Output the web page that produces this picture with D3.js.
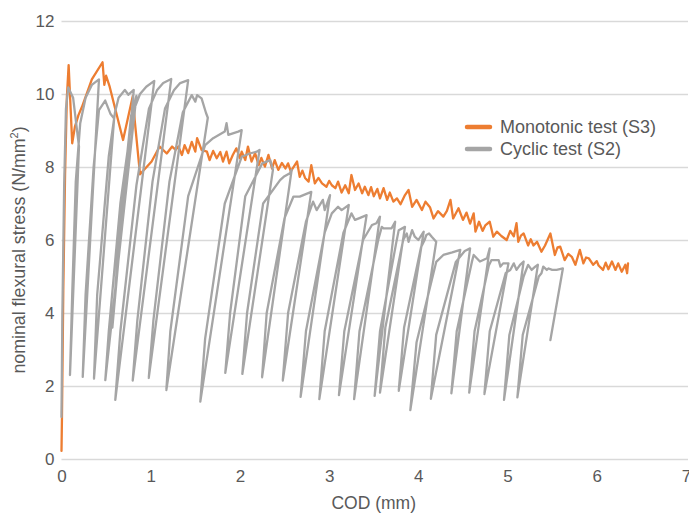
<!DOCTYPE html>
<html>
<head>
<meta charset="utf-8">
<script src="https://cdn.jsdelivr.net/npm/d3@7"></script>
<style>
  body { margin: 0; background: #fff; }
  text { font-family: "Liberation Sans", Arial, sans-serif; fill: #595959; }
</style>
</head>
<body>
<svg id="chart" width="689" height="513"></svg>
<script>
// tick values
var xTicks = [0, 1, 2, 3, 4, 5, 6, 7];
var yTicks = [0, 2, 4, 6, 8, 10, 12];

var seriesNames = ["Monotonic test (S3)", "Cyclic test (S2)"];

// [COD mm, stress N/mm2]
var monotonicS3 = [
  [0.00,0.22],[0.005,1.1],[0.02,4.6],[0.04,7.8],[0.06,9.9],[0.08,10.79],[0.12,8.65],[0.15,9.1],[0.19,9.42],
  [0.23,9.65],[0.34,10.40],[0.46,10.87],[0.48,10.25],[0.50,10.50],[0.54,10.20],[0.69,8.74],[0.80,9.95],
  [0.82,9.3],[0.88,7.80],[1.01,8.15],[1.10,8.56],[1.18,8.37],[1.24,8.56],[1.28,8.47],[1.31,8.56],[1.35,8.33],
  [1.38,8.60],[1.42,8.38],[1.46,8.69],[1.50,8.42],[1.52,8.79],[1.57,8.47],[1.63,8.42],[1.66,8.19],[1.70,8.44],
  [1.74,8.24],[1.78,8.41],[1.81,8.15],[1.85,8.42],[1.88,8.10],[1.92,8.33],[1.96,8.51],[2.00,8.24],[2.02,8.42],
  [2.06,8.19],[2.09,8.56],[2.13,8.15],[2.17,8.38],[2.21,8.05],[2.24,8.25],[2.28,8.01],[2.32,8.33],[2.36,7.96],
  [2.39,8.19],[2.43,7.92],[2.47,8.11],[2.51,7.96],[2.54,8.10],[2.57,7.88],[2.64,8.15],[2.67,7.73],[2.70,7.90],
  [2.73,7.70],[2.77,7.60],[2.80,8.05],[2.84,7.55],[2.88,7.70],[2.92,7.55],[2.97,7.46],[3.00,7.62],[3.03,7.50],
  [3.07,7.42],[3.10,7.60],[3.14,7.30],[3.18,7.50],[3.22,7.28],[3.25,7.78],[3.29,7.37],[3.33,7.55],[3.37,7.28],
  [3.40,7.46],[3.44,7.23],[3.47,7.45],[3.50,7.20],[3.54,7.40],[3.57,7.14],[3.61,7.42],[3.65,7.10],[3.68,7.30],
  [3.72,7.05],[3.76,7.14],[3.80,6.98],[3.85,7.23],[3.89,7.37],[3.93,6.91],[3.98,7.10],[4.04,6.82],[4.08,7.05],
  [4.13,6.90],[4.17,6.59],[4.22,6.79],[4.28,6.64],[4.32,6.80],[4.36,7.10],[4.39,6.59],[4.45,6.87],[4.50,6.55],
  [4.54,6.75],[4.58,6.45],[4.62,6.73],[4.64,6.23],[4.68,6.50],[4.72,6.25],[4.75,6.40],[4.80,6.50],[4.84,6.09],
  [4.88,6.23],[4.93,6.11],[4.99,6.00],[5.03,6.25],[5.07,6.10],[5.10,6.46],[5.12,5.95],[5.15,6.12],[5.18,6.18],
  [5.23,5.85],[5.26,6.02],[5.29,5.85],[5.33,5.95],[5.38,5.68],[5.42,5.85],[5.48,6.18],[5.53,5.59],[5.56,5.80],
  [5.59,5.82],[5.64,5.45],[5.68,5.62],[5.72,5.54],[5.76,5.32],[5.81,5.73],[5.85,5.36],[5.88,5.52],[5.91,5.50],
  [5.96,5.32],[6.00,5.42],[6.02,5.30],[6.07,5.18],[6.10,5.38],[6.13,5.20],[6.17,5.41],[6.21,5.18],[6.24,5.36],
  [6.28,5.13],[6.32,5.32],[6.34,5.09],[6.35,5.36]
];

// cyclic test: envelope, unload to the bottom point, reload back up
var cyclicS2 = [
  [0.00,1.15],[0.01,4.0],[0.03,7.5],[0.05,9.6],[0.076,10.18],[0.13,9.90],[0.196,8.56],
  [0.095,2.30],
  [0.12,4.5],[0.16,7.6],[0.21,9.2],[0.27,9.9],[0.34,10.25],[0.42,10.40],
  [0.238,2.25],
  [0.27,4.5],[0.36,8.0],[0.42,9.56],[0.49,9.82],[0.55,9.45],[0.59,9.33],
  [0.364,2.20],
  [0.40,4.5],[0.53,8.3],[0.60,9.5],[0.64,9.9],[0.71,10.11],[0.75,9.98],[0.81,10.11],
  [0.57,3.60],
  [0.66,6.5],[0.78,9.4],[0.84,9.95],
  [0.491,2.16],
  [0.53,3.5],[0.66,7.0],[0.80,9.5],[0.88,10.0],[0.95,10.2],[1.04,10.36],
  [0.603,1.62],
  [0.66,3.5],[0.84,7.5],[0.98,9.6],[1.07,10.1],[1.14,10.3],[1.23,10.41],
  [0.798,2.15],
  [0.85,3.8],[1.02,7.6],[1.16,9.6],[1.26,10.1],[1.33,10.3],[1.42,10.38],
  [0.978,2.22],
  [1.03,3.8],[1.21,7.6],[1.36,9.5],[1.46,9.97],[1.50,9.79],[1.52,9.97],[1.57,9.88],[1.62,9.48],[1.64,9.35],
  [1.175,1.89],
  [1.22,3.5],[1.42,7.2],[1.61,8.6],[1.70,8.79],[1.83,8.97],[1.85,9.2],[1.87,8.88],[1.98,8.97],[2.02,9.01],
  [1.556,1.57],
  [1.61,3.3],[1.83,7.0],[2.02,8.28],[2.11,8.37],[2.19,8.42],[2.22,8.47],
  [1.836,2.36],
  [1.89,4.0],[2.06,7.2],[2.25,8.1],[2.34,8.19],[2.37,7.92],
  [2.027,2.33],
  [2.08,4.0],[2.26,7.0],[2.45,7.64],[2.49,7.73],[2.56,7.83],[2.58,7.92],
  [2.248,2.24],
  [2.30,4.0],[2.50,6.6],[2.60,7.19],[2.67,7.19],[2.80,7.32],
  [2.48,2.15],
  [2.54,4.0],[2.74,6.5],[2.82,7.05],[2.86,6.82],[2.93,7.10],[2.95,6.82],[3.01,7.23],
  [2.68,1.70],
  [2.74,3.5],[2.95,6.2],[3.03,6.73],[3.10,6.91],[3.14,6.82],[3.22,6.96],
  [2.89,1.64],
  [2.95,3.5],[3.16,6.2],[3.25,6.73],[3.29,6.55],[3.34,6.60],[3.42,6.68],
  [3.11,1.75],
  [3.17,3.5],[3.38,6.0],[3.48,6.41],[3.53,6.46],[3.57,6.64],
  [3.28,1.64],
  [3.34,3.5],[3.55,6.0],[3.59,6.36],[3.61,6.32],[3.70,6.32],[3.74,6.50],
  [3.51,1.73],
  [3.57,3.5],[3.75,5.9],[3.78,6.27],[3.85,6.36],
  [3.57,1.82],
  [3.63,3.6],[3.83,6.0],[3.87,6.18],[3.89,5.95],[3.93,6.27],[3.96,6.09],[4.00,6.00],[4.06,6.23],
  [3.78,1.87],
  [3.84,3.6],[4.03,5.8],[4.07,6.00],[4.09,6.14],[4.12,6.18],[4.15,6.09],[4.20,5.95],
  [3.91,1.34],
  [3.98,3.2],[4.20,5.4],[4.28,5.59],[4.38,5.66],[4.47,5.73],
  [4.14,1.65],
  [4.20,3.4],[4.42,5.4],[4.52,5.70],[4.58,5.77],
  [4.37,1.80],
  [4.43,3.5],[4.60,5.4],[4.62,5.59],[4.69,5.41],[4.77,5.50],[4.80,5.77],
  [4.57,1.82],
  [4.63,3.5],[4.79,5.3],[4.82,5.45],[4.90,5.45],[4.92,5.27],[4.95,5.36],[5.01,5.36],
  [4.74,1.78],
  [4.80,3.5],[4.98,5.1],[5.03,5.18],[5.07,5.36],[5.10,5.18],[5.14,5.32],[5.18,5.41],
  [4.96,1.62],
  [5.02,3.4],[5.18,5.0],[5.20,5.13],[5.23,5.32],[5.27,5.18],[5.31,5.27],[5.34,5.32],
  [5.11,1.69],
  [5.17,3.4],[5.35,5.0],[5.38,5.09],[5.40,5.27],[5.44,5.18],[5.46,5.22],[5.50,5.18],[5.55,5.18],[5.62,5.22],
  [5.48,3.26]
];

var orange = "#ED7D31";
var grey = "#A5A5A5";

var svg = d3.select("#chart");

var x = d3.scaleLinear().domain([0, 7]).range([61.5, 686]);
var y = d3.scaleLinear().domain([0, 12]).range([459, 21]);

// Gridlines
svg.append("g")
  .attr("class", "grid")
  .attr("transform", "translate(" + x(0) + ",0)")
  .call(d3.axisLeft(y).tickValues(yTicks).tickSize(-(x(7) - x(0) + 2)).tickFormat(""))
  .call(function (g) { g.select(".domain").remove(); })
  .selectAll("line")
  .attr("stroke", "#D9D9D9")
  .attr("stroke-width", 1.3);

// Y tick labels
svg.append("g")
  .attr("transform", "translate(" + (x(0) - 7) + ",0)")
  .call(d3.axisLeft(y).tickValues(yTicks).tickSize(0).tickPadding(0).tickFormat(d3.format("d")))
  .call(function (g) { g.select(".domain").remove(); })
  .selectAll("text")
  .attr("font-size", 17)
  .attr("font-family", "Liberation Sans, Arial, sans-serif")
  .attr("fill", "#595959");

// X tick labels
svg.append("g")
  .attr("transform", "translate(0," + (y(0) + 11) + ")")
  .call(d3.axisBottom(x).tickValues(xTicks).tickSize(0).tickPadding(0).tickFormat(d3.format("d")))
  .call(function (g) { g.select(".domain").remove(); })
  .selectAll("text")
  .attr("font-size", 17)
  .attr("font-family", "Liberation Sans, Arial, sans-serif")
  .attr("fill", "#595959");

// Axis titles
svg.append("text")
  .attr("x", (x(0) + x(7)) / 2)
  .attr("y", 509)
  .attr("text-anchor", "middle")
  .attr("font-size", 17.5)
  .text("COD (mm)");

var yTitle = svg.append("text")
  .attr("transform", "translate(25," + 250 + ") rotate(-90)")
  .attr("text-anchor", "middle")
  .attr("font-size", 17.8);
yTitle.append("tspan").text("nominal flexural stress (N/mm");
yTitle.append("tspan").attr("font-size", 11).attr("dy", -7).text("2");
yTitle.append("tspan").attr("dy", 7).text(")");

var line = d3.line()
  .x(function (d) { return x(d[0]); })
  .y(function (d) { return y(d[1]); });

function appendSeries(onto, data, color) {
  onto.append("path")
    .datum(data)
    .attr("d", line)
    .attr("fill", "none")
    .attr("stroke", color)
    .attr("stroke-width", 2.3)
    .attr("stroke-linejoin", "round")
    .attr("stroke-linecap", "round");
}

appendSeries(svg, monotonicS3, orange);
appendSeries(svg, cyclicS2, grey);

// Legend
var legend = svg.append("g").attr("transform", "translate(467,127)");
[orange, grey].forEach(function (c, i) {
  legend.append("line")
    .attr("x1", 0).attr("x2", 23)
    .attr("y1", i * 22).attr("y2", i * 22)
    .attr("stroke", c)
    .attr("stroke-width", 4.5)
    .attr("stroke-linecap", "round");
  legend.append("text")
    .attr("x", 33)
    .attr("y", i * 22)
    .attr("dy", "0.35em")
    .attr("font-size", 18)
    .text(seriesNames[i]);
});
</script>
</body>
</html>
